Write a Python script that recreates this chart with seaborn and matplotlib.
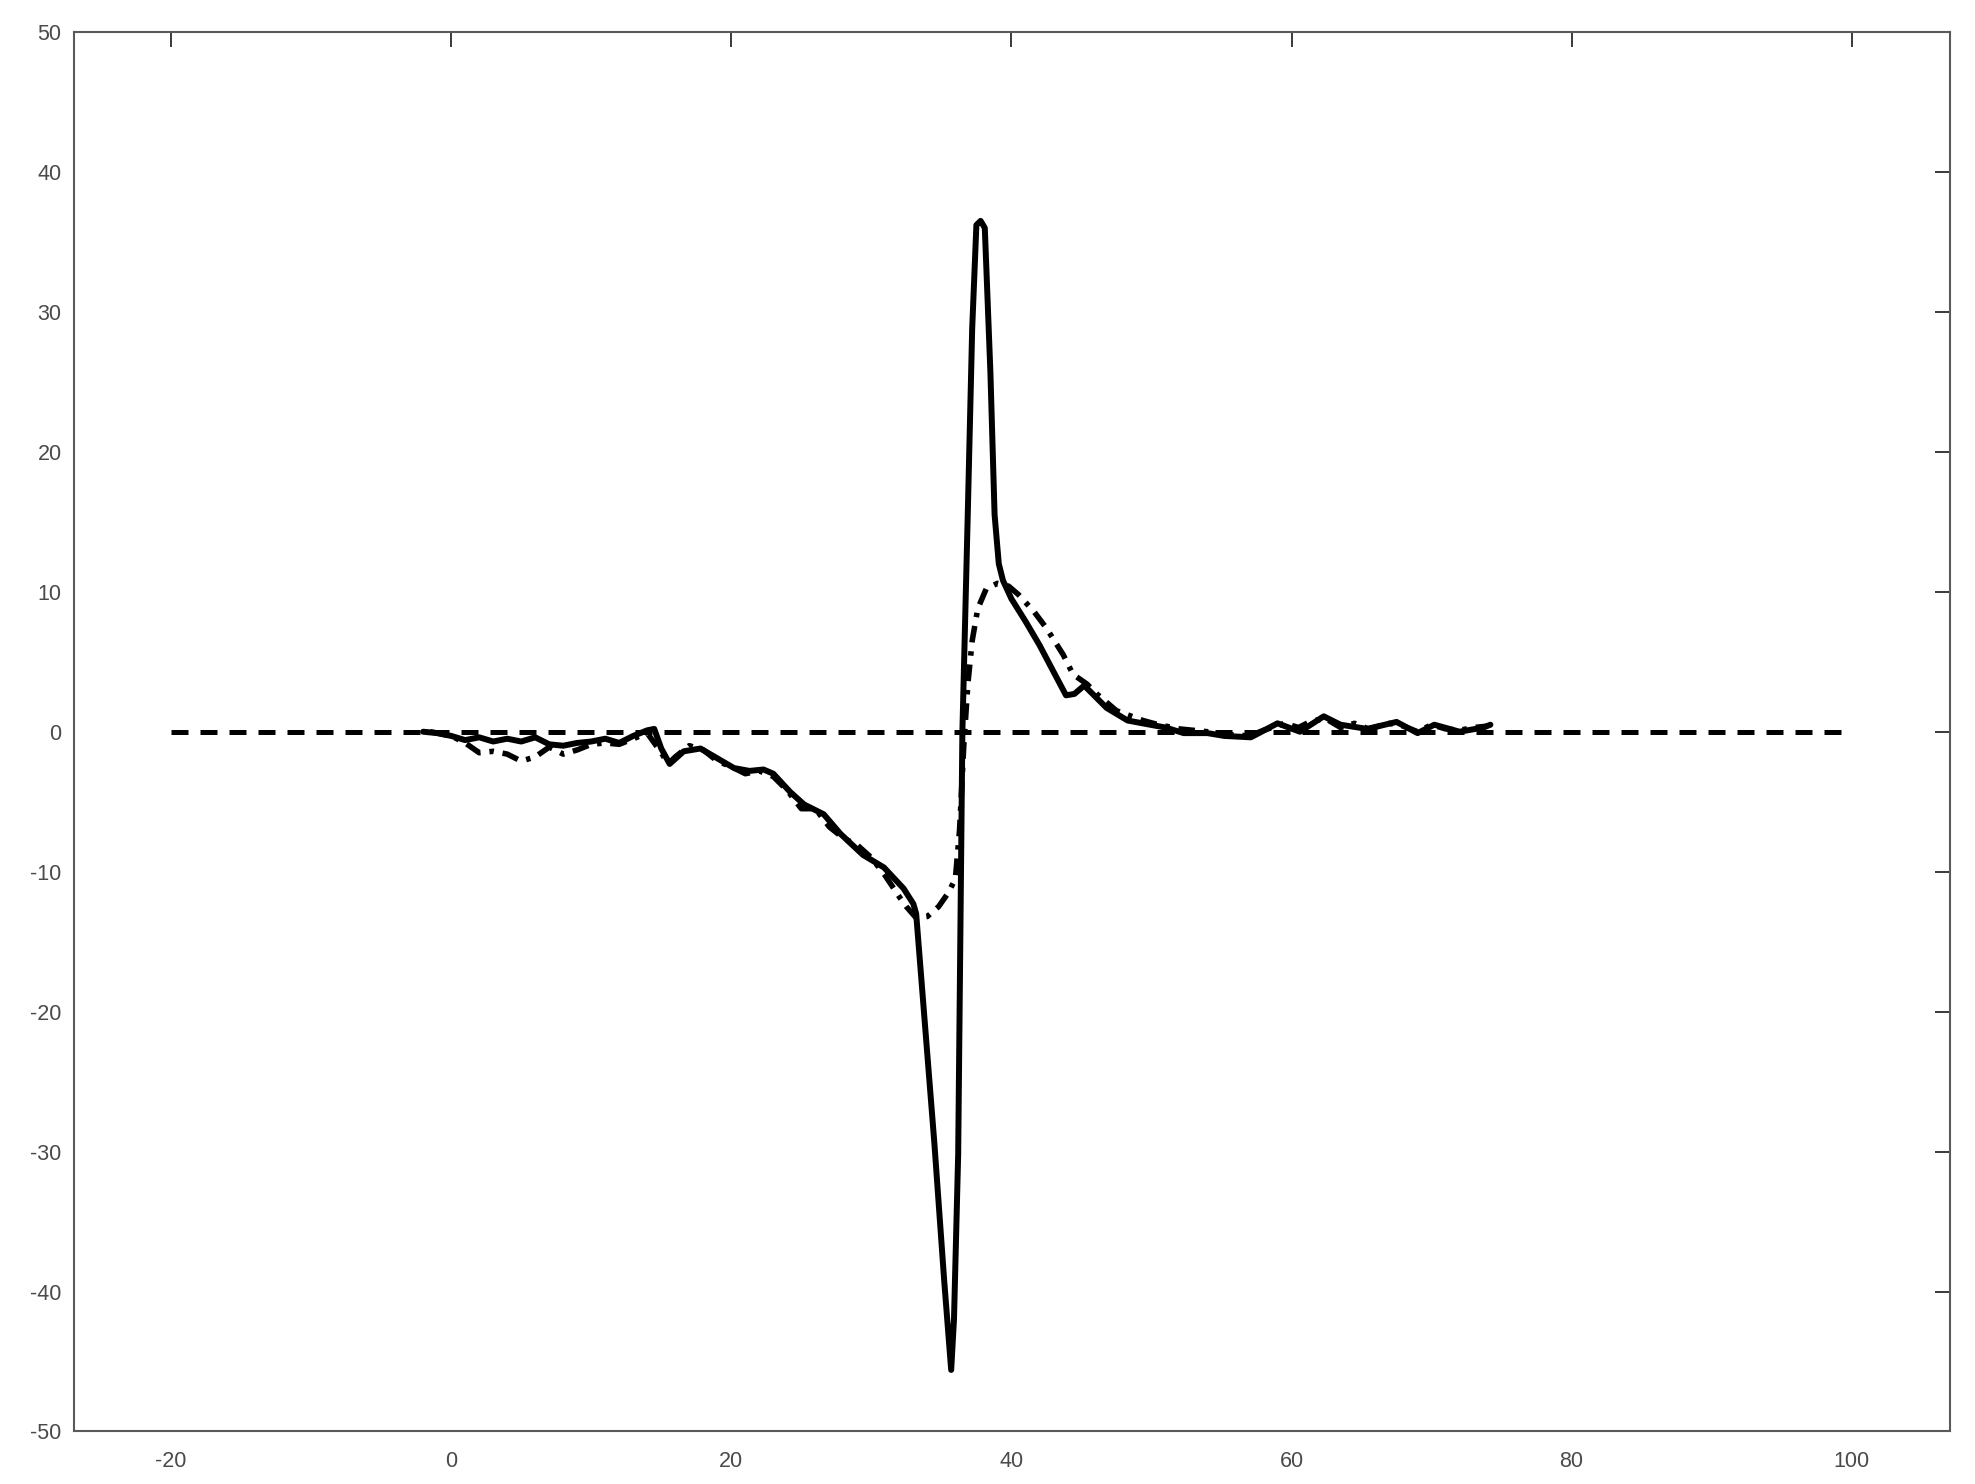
import numpy as np
import pandas as pd
import matplotlib
matplotlib.use("Agg")
import matplotlib.pyplot as plt
import seaborn as sns

# ---------------- data ----------------
solid_x = [-2, -1, 0, 1, 2, 3, 4, 5, 6, 7, 8, 9, 10, 11, 12, 13, 14, 14.5,
           15, 15.6, 16.6, 17.8, 19, 20.2, 21.3, 22.3, 23, 24.2, 25.2, 26.6,
           27.8, 29.4, 30.9, 32.3, 33.0, 33.2, 34.5, 35.2, 35.7, 35.9, 36.2,
           36.5, 36.9, 37.2, 37.5, 37.8, 38.1, 38.5, 38.8, 39.1, 39.4, 40, 41,
           42, 43, 43.9, 44.5, 45.2, 46, 46.8, 48.3, 49.9, 51, 52.3, 54, 55.2,
           57.1, 59, 60.6, 62.3, 63.5, 65.4, 67.5, 69, 70.2, 72, 73.7, 74.2]
solid_y = [0.0, -0.1, -0.3, -0.6, -0.4, -0.7, -0.5, -0.7, -0.4, -0.9, -1.0,
           -0.8, -0.7, -0.5, -0.8, -0.3, 0.1, 0.2,
           -1.2, -2.3, -1.4, -1.2, -1.9, -2.6, -2.8, -2.7, -3.0, -4.3, -5.2,
           -5.9, -7.3, -8.8, -9.7, -11.2, -12.3, -13.0, -29.4, -39.2, -45.6,
           -42.0, -30.2, 0.0, 16.2, 28.8, 36.2, 36.5, 36.0, 25.7, 15.5, 12.0,
           10.8, 9.5, 7.9, 6.2, 4.3, 2.6, 2.7, 3.3, 2.5, 1.7, 0.8, 0.5, 0.3,
           -0.1, -0.1, -0.3, -0.4, 0.6, 0.0, 1.1, 0.5, 0.2, 0.7, -0.1, 0.5,
           0.0, 0.3, 0.5]

dashdot_x = [-1.5, 0, 1, 2, 3, 4, 5, 6, 7, 8, 9, 10, 11, 12, 13, 14, 15,
             15.5, 16, 17, 18, 19, 20, 21, 22, 23, 24, 25, 26, 27, 28, 29,
             30, 31, 32, 32.5, 33.2, 34, 34.8, 35.5, 36.0, 36.3, 36.6, 36.9,
             37.2, 37.6, 38.2, 39.0, 39.8, 40.5, 41.6, 42.5, 43.7, 44.4, 45.4,
             46.1, 47.5, 49.4, 50.5, 52, 54, 55.5, 57, 58, 59.5, 60.5, 61.5,
             62.5, 63.5, 64.5, 65.5, 67, 68, 69, 70, 71, 72, 73, 74]
dashdot_y = [0.0, -0.3, -0.8, -1.5, -1.4, -1.6, -2.1, -1.8, -1.1, -1.6, -1.3,
             -0.9, -0.8, -0.9, -0.5, -0.1, -1.5, -2.3, -1.8, -1.0, -1.3, -2.1,
             -2.5, -3.0, -2.8, -3.2, -4.2, -5.5, -5.5, -6.8, -7.6, -8.1, -9.0,
             -10.3, -11.8, -12.5, -13.3, -13.2, -12.5, -11.5, -10.5, -7.0,
             -1.0, 3.5, 6.5, 8.8, 10.2, 10.6, 10.4, 9.8, 8.6, 7.4, 5.5, 4.1,
             3.4, 2.7, 1.5, 0.8, 0.5, 0.2, 0.0, -0.2, -0.3, 0.1, 0.6, 0.3,
             0.8, 0.9, 0.3, 0.6, 0.2, 0.6, 0.4, 0.0, 0.5, 0.2, 0.1, 0.3, 0.4]

ref_x = [-20, 100]
ref_y = [0, 0]

x_ticks = [-20, 0, 20, 40, 60, 80, 100]
y_ticks = [-50, -40, -30, -20, -10, 0, 10, 20, 30, 40, 50]

# ---------------- figure ----------------
sns.set_theme(style="white")
plt.rcParams['font.family'] = ['Liberation Sans', 'DejaVu Sans']

fig = plt.figure(figsize=(19.75, 14.84), dpi=100)
ax = fig.add_axes([0.03747, 0.03538, 0.9499, 0.9431])

df_solid = pd.DataFrame({"x": solid_x, "y": solid_y})
df_dd = pd.DataFrame({"x": dashdot_x, "y": dashdot_y})
df_ref = pd.DataFrame({"x": ref_x, "y": ref_y})

sns.lineplot(data=df_solid, x="x", y="y", ax=ax, color="black",
             linewidth=4.3, estimator=None, sort=False,
             solid_joinstyle="round", solid_capstyle="round")
sns.lineplot(data=df_dd, x="x", y="y", ax=ax, color="black",
             linewidth=4.0, estimator=None, sort=False,
             linestyle=(0, (3.0, 1.6, 0.8, 1.6)))
sns.lineplot(data=df_ref, x="x", y="y", ax=ax, color="black",
             linewidth=3.6, estimator=None, sort=False,
             linestyle=(0, (3.4, 2.4)))

ax.set_xlim(-26.93, 107.02)
ax.set_ylim(-50, 50)
ax.set_xticks(x_ticks)
ax.set_yticks(y_ticks)
ax.set_xticklabels([str(v) for v in x_ticks])
ax.set_yticklabels([str(v) for v in y_ticks])
ax.set_xlabel("")
ax.set_ylabel("")

for s in ax.spines.values():
    s.set_visible(True)
    s.set_color("#5a5a5a")
    s.set_linewidth(1.5)

ax.tick_params(axis="both", which="major", direction="in", length=11,
               width=1.4, color="#3a3a3a", labelsize=15.5,
               labelcolor="#4a4a4a", top=True, right=True)
ax.tick_params(axis="y", pad=9)
ax.tick_params(axis="x", pad=14)
ax.grid(False)
ax.set_facecolor("white")
fig.patch.set_facecolor("white")

fig.savefig("out.png", dpi=100)
